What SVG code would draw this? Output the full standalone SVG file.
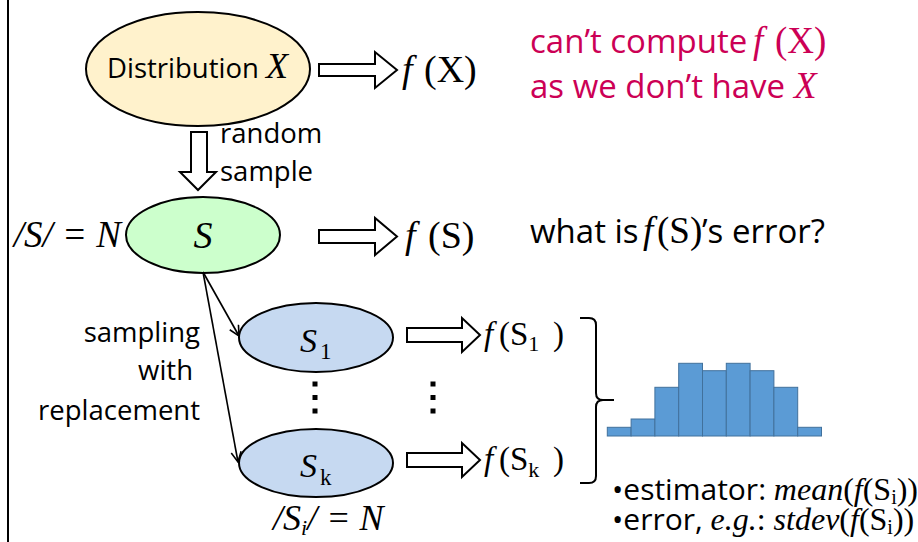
<svg xmlns="http://www.w3.org/2000/svg" width="918" height="542" viewBox="0 0 918 542">
<defs>
<style>
.sans{font-family:"Open Sans","Noto Sans",sans-serif;}
.serif{font-family:"Liberation Serif","Times New Roman",serif;}
.it{font-style:italic;}
.node{stroke:#000;stroke-width:2;}
.barrow{fill:#fff;stroke:#000;stroke-width:2;}
.red{fill:#CC0055;}
.bar{fill:#5B9BD5;stroke:#41719C;stroke-width:1;}
.dot{fill:#000;}
.thin{stroke:#000;stroke-width:1.6;fill:none;marker-end:url(#open);}
</style>
<marker id="open" viewBox="0 0 12 12" refX="11" refY="6" markerWidth="12" markerHeight="12" markerUnits="userSpaceOnUse" orient="auto"><path d="M1,1 L11,6 L1,11" fill="none" stroke="#000" stroke-width="1.6"/></marker>
</defs>
<rect width="918" height="542" fill="#fff"/>
<line x1="8" y1="0" x2="8" y2="542" stroke="#000" stroke-width="2"/>

<g id="distribution">
<ellipse cx="198" cy="69" rx="112" ry="57" fill="#FFF2CC" class="node"/>
<text y="78" font-size="27.5"><tspan class="sans" x="107">Distribution</tspan><tspan class="serif it" x="266" font-size="36">X</tspan></text>
</g>
<g id="fX"><text class="serif" y="82" font-size="38"><tspan class="it" x="402">f</tspan><tspan x="424">(X)</tspan></text></g>

<g id="note-cant" class="red">
<text y="53" font-size="33"><tspan class="sans" x="530">can’t compute</tspan><tspan class="serif it" x="753" font-size="37">f</tspan><tspan class="serif" x="775" font-size="37">(X)</tspan></text>
<text y="98" font-size="33"><tspan class="sans" x="530">as we don’t have</tspan><tspan class="serif it" x="794" font-size="37">X</tspan></text>
</g>

<g id="random-sample-label">
<text class="sans" font-size="27.5" x="220" y="143">random</text>
<text class="sans" font-size="27.5" x="220" y="181">sample</text>
</g>

<g id="S">
<ellipse cx="203" cy="235" rx="77" ry="38" fill="#CCFFCC" class="node"/>
<text class="serif it" font-size="38" x="203" y="248" text-anchor="middle">S</text>
</g>
<g id="S-size"><text class="serif it" font-size="37" x="121" y="247" text-anchor="end">/S/ = N</text></g>
<g id="fS"><text class="serif" y="248" font-size="38"><tspan class="it" x="405">f</tspan><tspan x="428">(S)</tspan></text></g>
<g id="question"><text y="243" font-size="33"><tspan class="sans" x="530">what is</tspan><tspan class="serif it" x="643" font-size="37">f</tspan><tspan class="serif" x="657" font-size="37">(S)</tspan><tspan class="sans" x="702">’s error?</tspan></text></g>

<g id="sampling-label" class="sans" font-size="27.5" text-anchor="end">
<text x="200" y="342">sampling</text>
<text x="193" y="380">with</text>
<text x="200" y="420">replacement</text>
</g>

<g id="S1">
<ellipse cx="316" cy="337.5" rx="77" ry="34.5" fill="#C6D9F1" class="node"/>
<text class="serif" font-size="34" y="352"><tspan class="it" x="300">S</tspan><tspan x="320" dy="7" font-size="23">1</tspan></text>
</g>
<g id="Sk">
<ellipse cx="316" cy="463" rx="77" ry="34" fill="#C6D9F1" class="node"/>
<text class="serif" font-size="34" y="477"><tspan class="it" x="300">S</tspan><tspan x="320" dy="8" font-size="23">k</tspan></text>
</g>
<g id="Si-size"><text class="serif it" font-size="36" y="530"><tspan x="273">/S</tspan><tspan dy="5" font-size="22">i</tspan><tspan dy="-5">/ = N</tspan></text></g>

<g id="fS1"><text class="serif" font-size="33" y="345"><tspan class="it" x="484">f</tspan><tspan x="499">(S</tspan><tspan dy="6" font-size="22">1</tspan><tspan x="553" dy="-6">)</tspan></text></g>
<g id="fSk"><text class="serif" font-size="33" y="470"><tspan class="it" x="484">f</tspan><tspan x="499">(S</tspan><tspan dy="7" font-size="22">k</tspan><tspan x="553" dy="-7">)</tspan></text></g>

<g id="ellipsis-dots" class="dot">
<rect x="312.5" y="381.5" width="5" height="5"/><rect x="312.5" y="395" width="5" height="5"/><rect x="312.5" y="408.5" width="5" height="5"/>
<rect x="430.5" y="381.5" width="5" height="5"/><rect x="430.5" y="395" width="5" height="5"/><rect x="430.5" y="408.5" width="5" height="5"/>
</g>

<g id="brace"><path d="M580,318 H589 Q596,318 596,325 V393 Q596,400 603,400 H614 M603,400 Q596,400 596,407 V476 Q596,483 589,483 H580" fill="none" stroke="#000" stroke-width="2"/></g>

<g id="histogram">
<rect class="bar" x="607.3" y="427.3" width="23.8" height="8.7"/>
<rect class="bar" x="631.1" y="419" width="23.8" height="17"/>
<rect class="bar" x="654.9" y="387.3" width="23.8" height="48.7"/>
<rect class="bar" x="678.7" y="363.3" width="23.8" height="72.7"/>
<rect class="bar" x="702.5" y="370.7" width="23.8" height="65.3"/>
<rect class="bar" x="726.3" y="363.3" width="23.8" height="72.7"/>
<rect class="bar" x="750.1" y="370.7" width="23.8" height="65.3"/>
<rect class="bar" x="773.9" y="387.3" width="23.8" height="48.7"/>
<rect class="bar" x="797.7" y="427.3" width="23.8" height="8.7"/>
</g>

<g id="summary">
<text y="500" font-size="30"><tspan class="sans" x="612">•estimator: </tspan><tspan class="serif it" font-size="32">mean</tspan><tspan class="serif" font-size="32">(</tspan><tspan class="serif it" font-size="32">f</tspan><tspan class="serif" font-size="32">(S</tspan><tspan class="serif" font-size="20" dy="4">i</tspan><tspan class="serif" font-size="32" dy="-4">))</tspan></text>
<text y="530" font-size="30"><tspan class="sans" x="612">•error, </tspan><tspan class="serif it" font-size="32">e.g.</tspan><tspan class="serif" font-size="32">: </tspan><tspan class="serif it" font-size="32">stdev</tspan><tspan class="serif" font-size="32">(</tspan><tspan class="serif it" font-size="32">f</tspan><tspan class="serif" font-size="32">(S</tspan><tspan class="serif" font-size="20" dy="4">i</tspan><tspan class="serif" font-size="32" dy="-4">))</tspan></text>
</g>

<g id="connectors">
<polygon class="barrow" points="319,64 375,64 375,52 397,70 375,88 375,76 319,76"/>
<polygon class="barrow" points="191,132 207,132 207,172 216,172 198,190 180,172 191,172"/>
<polygon class="barrow" points="319,230 375,230 375,218 397,236.5 375,255 375,243 319,243"/>
<polygon class="barrow" points="407,328 462,328 462,318 480,335 462,352 462,342 407,342"/>
<polygon class="barrow" points="407,453 462,453 462,443 480,460 462,477 462,467 407,467"/>
<line class="thin" x1="203" y1="272" x2="239" y2="336"/>
<line class="thin" x1="203" y1="272" x2="238" y2="462"/>
</g>
</svg>
